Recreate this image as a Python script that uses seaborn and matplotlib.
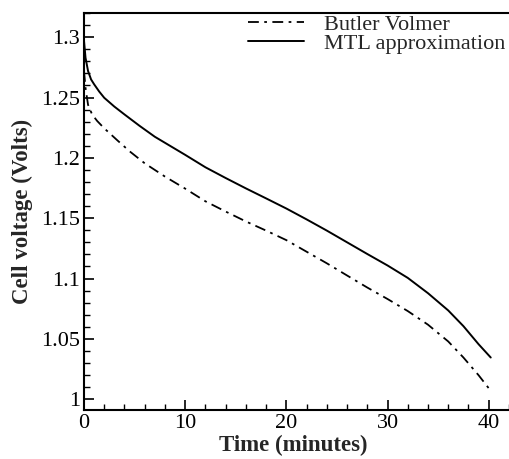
import matplotlib
matplotlib.use("Agg")
import matplotlib.pyplot as plt
import seaborn as sns
import pandas as pd
from matplotlib.ticker import MultipleLocator, FuncFormatter

# ---- data ----
bv_time = [0.0, 0.15, 0.4, 0.8, 1.3, 2.0, 3.3, 4.5, 6.0, 8.0, 10.0, 12.0,
           14.0, 16.0, 18.0, 20.0, 22.0, 24.0, 26.0, 28.0, 30.0, 32.0, 34.0,
           36.0, 37.5, 39.0, 40.2]
bv_volt = [1.272, 1.258, 1.244, 1.236, 1.2306, 1.2245, 1.2145, 1.2055, 1.1955,
           1.1845, 1.1745, 1.1640, 1.1555, 1.1473, 1.1397, 1.1318, 1.1222,
           1.1126, 1.1025, 1.0925, 1.0830, 1.0730, 1.0617, 1.0478, 1.0345,
           1.0198, 1.0069]

mtl_time = [0.0, 0.15, 0.4, 0.7, 1.0, 1.5, 2.0, 3.0, 4.0, 5.5, 7.0, 8.5,
            10.0, 12.0, 14.0, 16.0, 18.0, 20.0, 22.0, 24.0, 26.0, 28.0, 30.0,
            32.0, 34.0, 36.0, 37.5, 39.0, 40.2]
mtl_volt = [1.297, 1.283, 1.272, 1.265, 1.261, 1.255, 1.2498, 1.2425, 1.236,
            1.2265, 1.2175, 1.2100, 1.2025, 1.1922, 1.1833, 1.1747, 1.1664,
            1.1580, 1.1490, 1.1397, 1.1300, 1.1203, 1.1108, 1.1005, 1.0878,
            1.0735, 1.0605, 1.0455, 1.0345]

series_names = ["Butler Volmer", "MTL approximation"]
x_ticks = [0, 10, 20, 30, 40]
y_ticks = [1.0, 1.05, 1.1, 1.15, 1.2, 1.25, 1.3]

df = pd.concat([
    pd.DataFrame({"Time": bv_time, "Voltage": bv_volt, "Model": series_names[0]}),
    pd.DataFrame({"Time": mtl_time, "Voltage": mtl_volt, "Model": series_names[1]}),
], ignore_index=True)

sns.set_theme(style="white")
plt.rcParams["font.family"] = ["Liberation Serif", "DejaVu Serif"]

fig = plt.figure(figsize=(5.10, 4.59), dpi=100)
W, H = 510, 459
ax = fig.add_axes([84 / W, 1 - 410 / H, (512 - 84) / W, (410 - 12.5) / H])

sns.lineplot(data=df[df.Model == series_names[0]], x="Time", y="Voltage",
             color="black", lw=1.3, ax=ax, label=series_names[0],
             estimator=None, sort=False)
sns.lineplot(data=df[df.Model == series_names[1]], x="Time", y="Voltage",
             color="black", lw=1.4, ax=ax, label=series_names[1],
             estimator=None, sort=False)
ax.lines[0].set_linestyle((0, (6, 3, 1.5, 3)))

ax.set_xlim(0, 42.3)
ax.set_ylim(0.991, 1.3205)
ax.set_xticks(x_ticks)
ax.set_yticks(y_ticks)
ax.xaxis.set_minor_locator(MultipleLocator(2))
ax.yaxis.set_minor_locator(MultipleLocator(0.01))
ax.yaxis.set_major_formatter(FuncFormatter(lambda v, p: f"{v:g}"))

ax.tick_params(which="both", direction="in", top=False, right=False,
               bottom=True, left=True, colors="black", labelsize=16)
ax.tick_params(which="major", length=7, width=1.2, pad=3)
ax.tick_params(which="minor", length=4, width=1.0)

for side in ["left", "bottom", "top"]:
    ax.spines[side].set_visible(True)
    ax.spines[side].set_color("black")
    ax.spines[side].set_linewidth(1.5)
ax.spines["right"].set_visible(False)

ax.set_xlabel("Time (minutes)", fontsize=16.5, fontweight="bold")
ax.set_ylabel("Cell voltage (Volts)", fontsize=16.5, fontweight="bold")
ax.xaxis.set_label_coords(0.488, -0.062)
ax.yaxis.set_label_coords(-0.12, 0.5)

leg = ax.legend(loc="upper left", bbox_to_anchor=(248 / W, 1 - 14 / H),
                bbox_transform=fig.transFigure, frameon=False, fontsize=16,
                handlelength=2.5, handletextpad=0.9, borderpad=0.0,
                borderaxespad=0.0, labelspacing=-0.05)

fig.savefig("out.png", dpi=100, facecolor="white")
